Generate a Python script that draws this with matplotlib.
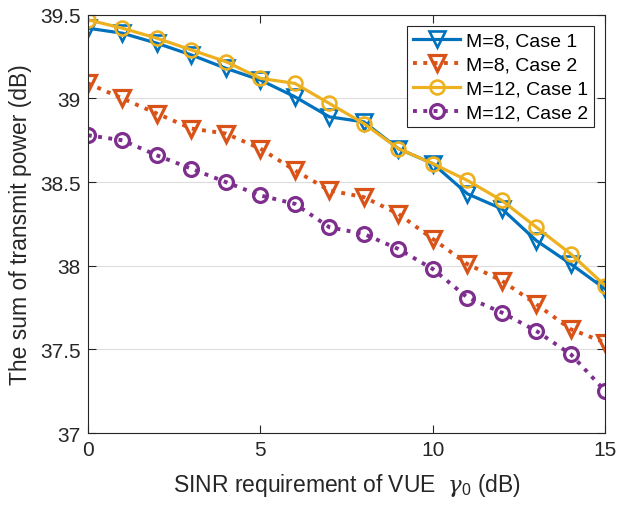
import numpy as np
import matplotlib
matplotlib.use('Agg')
import matplotlib.pyplot as plt
from matplotlib.ticker import FormatStrFormatter

plt.rcParams['font.family'] = ['Liberation Sans', 'DejaVu Sans']
plt.rcParams['mathtext.fontset'] = 'custom'
plt.rcParams['mathtext.it'] = 'DejaVu Serif:italic'
plt.rcParams['mathtext.rm'] = 'Liberation Sans'

# SINR requirement (dB)
sinr = np.arange(0, 16)

# sum of transmit power (dB)
m8_case1 = [39.42, 39.39, 39.33, 39.26, 39.18, 39.11, 39.01, 38.89, 38.86, 38.70,
            38.61, 38.43, 38.34, 38.15, 38.01, 37.86]
m8_case2 = [39.09, 39.00, 38.91, 38.82, 38.79, 38.70, 38.57, 38.45, 38.41, 38.31,
            38.16, 38.01, 37.91, 37.77, 37.62, 37.54]
m12_case1 = [39.47, 39.42, 39.36, 39.29, 39.22, 39.12, 39.09, 38.97, 38.85, 38.70,
             38.61, 38.51, 38.39, 38.23, 38.07, 37.88]
m12_case2 = [38.78, 38.75, 38.66, 38.58, 38.50, 38.42, 38.37, 38.23, 38.19, 38.10,
             37.98, 37.81, 37.72, 37.61, 37.47, 37.25]

labels = ['M=8, Case 1', 'M=8, Case 2', 'M=12, Case 1', 'M=12, Case 2']

fig = plt.figure(figsize=(6.19, 5.10), dpi=100)
ax = fig.add_axes([0.142, 0.149, 0.836, 0.820])

ax.plot(sinr, m8_case1, '-', color='#0072BD', lw=2.3, marker='v', ms=11,
        mfc='none', mew=1.9, label=labels[0])
ax.plot(sinr, m8_case2, ':', color='#D95319', lw=2.8, marker='v', ms=11,
        mfc='none', mew=2.3, label=labels[1])
ax.plot(sinr, m12_case1, '-', color='#EDB120', lw=2.3, marker='o', ms=10,
        mfc='none', mew=1.9, label=labels[2])
ax.plot(sinr, m12_case2, ':', color='#7E2F8E', lw=2.8, marker='o', ms=10,
        mfc='none', mew=2.3, label=labels[3])

ax.set_xlim(0, 15)
ax.set_ylim(37, 39.5)
ax.set_xticks([0, 5, 10, 15])
ax.set_yticks([37, 37.5, 38, 38.5, 39, 39.5])
ax.yaxis.set_major_formatter(FormatStrFormatter('%g'))
ax.grid(axis='y', color='#dcdcdc', lw=0.8)
ax.set_axisbelow(True)
ax.tick_params(direction='in', labelsize=15, length=6, top=True, right=True,
               colors='#262626', labelcolor='#262626', pad=5)
for s in ax.spines.values():
    s.set_linewidth(0.8)
    s.set_color('#262626')

ax.set_xlabel(r'SINR requirement of VUE  $\gamma_0$ (dB)', fontsize=16.5, color='#262626',
              labelpad=9)
ax.set_ylabel('The sum of transmit power (dB)', fontsize=16.5, color='#262626', labelpad=6)

leg = ax.legend(loc='upper right', fontsize=14, fancybox=False, framealpha=1,
                edgecolor='#262626', handlelength=2.4, borderpad=0.3,
                labelspacing=0.32, handletextpad=0.3, borderaxespad=0.6)
leg.get_frame().set_linewidth(0.8)

fig.savefig('out.png', dpi=100)
